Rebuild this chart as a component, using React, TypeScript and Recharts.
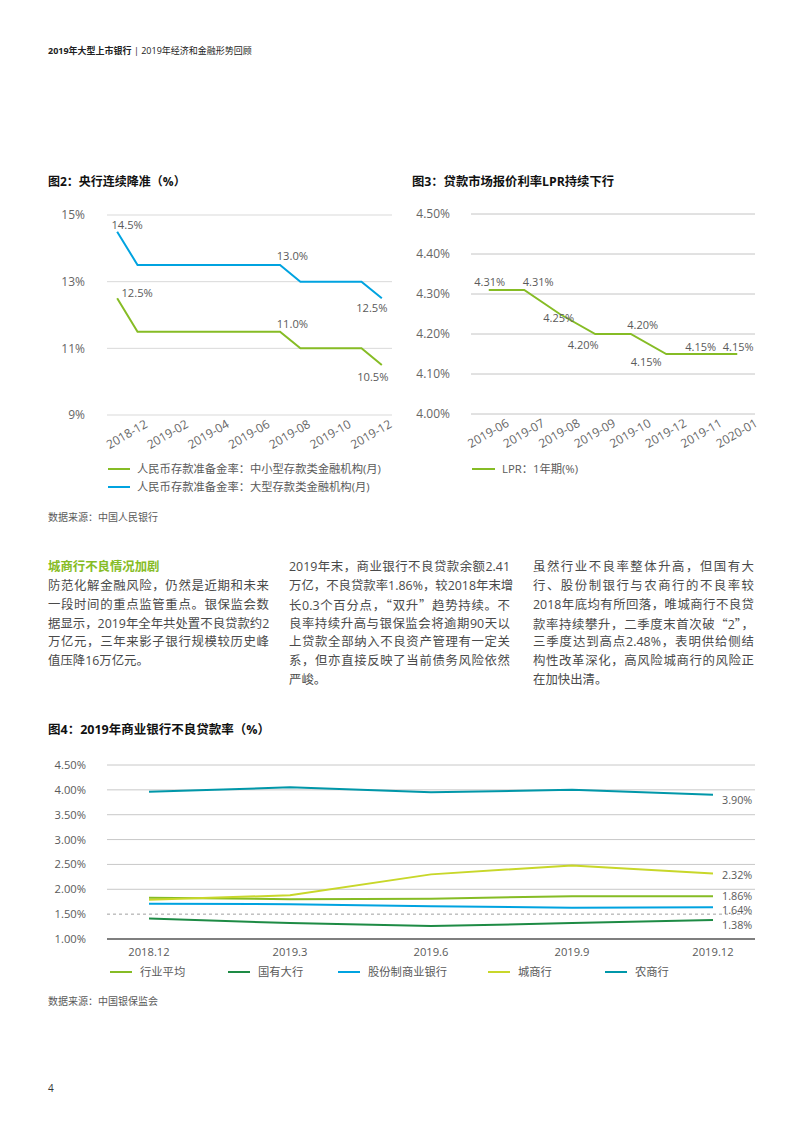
import React from 'react';
import { LineChart, Line, XAxis, YAxis, CartesianGrid, ReferenceLine } from 'recharts';

const FONT = "'Open Sans', 'Noto Sans CJK SC', sans-serif";
const CJK = "'Noto Sans CJK SC', sans-serif";
const GREY_TEXT = '#5a5a5a';
const AXIS = '#7f7f7f';

// ---------- Figure 2 data ----------
const rrrMonths = ['2018-12', '2019-01', '2019-02', '2019-03', '2019-04', '2019-05', '2019-06', '2019-07', '2019-08', '2019-09', '2019-10', '2019-11', '2019-12', '2020-01'];
const rrrLarge = [14.5, 13.5, 13.5, 13.5, 13.5, 13.5, 13.5, 13.5, 13.5, 13.0, 13.0, 13.0, 13.0, 12.5];
const rrrSmall = [12.5, 11.5, 11.5, 11.5, 11.5, 11.5, 11.5, 11.5, 11.5, 11.0, 11.0, 11.0, 11.0, 10.5];
const rrrYTicks = [9, 11, 13, 15];
const rrrLegend = ['人民币存款准备金率：中小型存款类金融机构(月)', '人民币存款准备金率：大型存款类金融机构(月)'];

// ---------- Figure 3 data ----------
const lprMonths = ['2019-06', '2019-07', '2019-08', '2019-09', '2019-10', '2019-12', '2019-11', '2020-01'];
const lprValues = [4.31, 4.31, 4.25, 4.2, 4.2, 4.15, 4.15, 4.15];
const lprYTicks = [4.0, 4.1, 4.2, 4.3, 4.4, 4.5];
const lprLegend = 'LPR：1年期(%)';

// ---------- Figure 4 data ----------
const npCats = ['2018.12', '2019.3', '2019.6', '2019.9', '2019.12'];
const npIndustry = [1.83, 1.80, 1.81, 1.86, 1.86];
const npStateOwned = [1.41, 1.32, 1.26, 1.32, 1.38];
const npJointStock = [1.71, 1.70, 1.66, 1.63, 1.64];
const npCity = [1.79, 1.88, 2.30, 2.48, 2.32];
const npRural = [3.96, 4.05, 3.95, 4.00, 3.90];
const npYTicks = [1.0, 1.5, 2.0, 2.5, 3.0, 3.5, 4.0, 4.5];
const npNames = ['行业平均', '国有大行', '股份制商业银行', '城商行', '农商行'];

// ---------- Built tables ----------
const rrrData = rrrMonths.map((m, i) => ({ x: i + 0.5, month: m, large: rrrLarge[i], small: rrrSmall[i] }));
const rrrEdgeTicks = rrrMonths.map((_, i) => i).filter((i) => i % 2 === 0).concat([rrrMonths.length]);
const rrrLabelTicks = rrrMonths.map((_, i) => i).filter((i) => i % 2 === 0).map((i) => i + 1);

const lprData = lprMonths.map((m, i) => ({ x: i + 0.5, month: m, lpr: lprValues[i] }));
const lprEdgeTicks = lprMonths.map((_, i) => i).concat([lprMonths.length]);
const lprLabelTicks = lprMonths.map((_, i) => i + 0.5);

const npData = npCats.map((c, i) => ({
  cat: c,
  industry: npIndustry[i],
  state: npStateOwned[i],
  joint: npJointStock[i],
  city: npCity[i],
  rural: npRural[i],
}));

// ---------- styles ----------
const C_GREEN = '#86BC25';
const C_BLUE = '#00A3E0';
const C_DKGREEN = '#1E8B45';
const C_LIME = '#C8D72A';
const C_TEAL = '#0097A9';

const npSeries = [
  { key: 'industry', color: C_GREEN },
  { key: 'state', color: C_DKGREEN },
  { key: 'joint', color: C_BLUE },
  { key: 'city', color: C_LIME },
  { key: 'rural', color: C_TEAL },
];

const EmptyTick = () => <g />;

const RotTick = (props: any) => {
  const { x, y, payload, fmt } = props;
  return (
    <g transform={`translate(${x + 19},${y + 8}) rotate(-30)`}>
      <text textAnchor="end" dy="0.35em" fill="#666" fontSize={12} fontFamily={FONT}>
        {fmt(payload.value)}
      </text>
    </g>
  );
};

const makeLabel = (
  offsets: Record<number, [number, number]>,
  fmt: (v: number) => string,
  size: number,
  anchor: string = 'middle'
) => (props: any) => {
  const { x, y, index, value } = props;
  const o = offsets[index];
  if (!o) return <g key={`e${index}`} />;
  return (
    <text
      key={`t${index}`}
      x={x + o[0]}
      y={y + o[1]}
      textAnchor={anchor as any}
      dominantBaseline="central"
      fontSize={size}
      fill={GREY_TEXT}
      fontFamily={FONT}
    >
      {fmt(value)}
    </text>
  );
};

// wrap CJK quotation marks so they render full-width
const withQuotes = (t: string) =>
  t.split(/([“”])/).map((part, i) =>
    part === '“' || part === '”' ? (
      <span key={i} style={{ fontFamily: CJK }}>{part}</span>
    ) : (
      <React.Fragment key={i}>{part}</React.Fragment>
    )
  );

const Txt = (p: { x: number; y: number; size: number; color?: string; weight?: number; width?: number; justify?: boolean; children: React.ReactNode }) => (
  <div
    style={{
      position: 'absolute',
      left: p.x,
      top: p.y - p.size * 0.75,
      height: p.size * 1.5,
      lineHeight: `${p.size * 1.5}px`,
      fontSize: p.size,
      color: p.color || '#4a4a4a',
      fontWeight: p.weight || 400,
      whiteSpace: 'nowrap',
      width: p.width,
      textAlign: p.justify ? 'justify' : 'left',
      textAlignLast: p.justify ? 'justify' : 'auto',
      fontFamily: FONT,
    } as React.CSSProperties}
  >
    {p.children}
  </div>
);

const LegendLine = (p: { x: number; y: number; color: string; w?: number }) => (
  <div style={{ position: 'absolute', left: p.x, top: p.y - 1, width: p.w || 22, height: 2, background: p.color }} />
);

const col1 = [
  '防范化解金融风险，仍然是近期和未来',
  '一段时间的重点监管重点。银保监会数',
  '据显示，2019年全年共处置不良贷款约2',
  '万亿元，三年来影子银行规模较历史峰',
  '值压降16万亿元。',
];
const col2 = [
  '2019年末，商业银行不良贷款余额2.41',
  '万亿，不良贷款率1.86%，较2018年末增',
  '长0.3个百分点，“双升”趋势持续。不',
  '良率持续升高与银保监会将逾期90天以',
  '上贷款全部纳入不良资产管理有一定关',
  '系，但亦直接反映了当前债务风险依然',
  '严峻。',
];
const col3 = [
  '虽然行业不良率整体升高，但国有大',
  '行、股份制银行与农商行的不良率较',
  '2018年底均有所回落，唯城商行不良贷',
  '款率持续攀升，二季度末首次破“2”，',
  '三季度达到高点2.48%，表明供给侧结',
  '构性改革深化，高风险城商行的风险正',
  '在加快出清。',
];

const LH = 18.8;
const TOP = 567.5;
const BODY = 12.4;
const COLW = 221;

export default function App() {
  const pct1 = (v: number) => `${Number(v).toFixed(1)}%`;
  const pct2 = (v: number) => `${Number(v).toFixed(2)}%`;
  const legX = [110, 228, 338, 488, 605];
  const npDy: Record<string, number> = { industry: -1, state: 4.5, joint: 2, city: 1.5, rural: 4.5 };

  return (
    <div style={{ position: 'absolute', left: 0, top: 0, width: 802, height: 1133, background: '#fff', fontFamily: FONT, overflow: 'hidden' }}>
      <style>{'.recharts-surface{overflow:visible}'}</style>
      {/* header */}
      <div style={{ position: 'absolute', left: 48, top: 44, fontSize: 9, lineHeight: '13px', color: '#222', whiteSpace: 'nowrap', fontFamily: FONT }}>
        <span style={{ fontWeight: 700 }}>2019年大型上市银行</span>
        <span> | 2019年经济和金融形势回顾</span>
      </div>

      {/* Figure 2 */}
      <Txt x={48} y={182} size={12} color="#111" weight={700}>图2：央行连续降准（%）</Txt>
      <div style={{ position: 'absolute', left: 40, top: 200 }}>
        <LineChart width={362} height={260} data={rrrData} margin={{ top: 15, right: 10, bottom: 5, left: 0 }}>
          <CartesianGrid vertical={false} stroke="#d9d9d9" xAxisId="edges" />
          <XAxis
            xAxisId="edges"
            dataKey="x"
            type="number"
            domain={[0, rrrMonths.length]}
            ticks={rrrEdgeTicks}
            interval={0}
            height={0}
            tick={<EmptyTick />}
            tickSize={5}
            axisLine={{ stroke: AXIS, strokeWidth: 1.5 }}
            tickLine={{ stroke: AXIS, strokeWidth: 1.5 }}
          />
          <XAxis
            xAxisId="main"
            dataKey="x"
            type="number"
            domain={[0, rrrMonths.length]}
            ticks={rrrLabelTicks}
            interval={0}
            height={40}
            axisLine={false}
            tickLine={false}
            tickSize={0}
            tickMargin={0}
            tick={<RotTick fmt={(v: number) => rrrMonths[v - 1]} />}
          />
          <YAxis
            domain={[9, 15]}
            ticks={rrrYTicks}
            interval={0}
            width={67}
            axisLine={false}
            tickLine={false}
            tickSize={0}
            tickMargin={22}
            tickFormatter={(v: number) => `${v}%`}
            tick={{ fill: '#666', fontSize: 12, fontFamily: FONT }}
          />
          <Line
            xAxisId="main"
            dataKey="large"
            stroke={C_BLUE}
            strokeWidth={2}
            dot={false}
            isAnimationActive={false}
            label={makeLabel({ 0: [10, -7], 9: [-8, -26], 13: [-10, 9] }, pct1, 11.2)}
          />
          <Line
            xAxisId="main"
            dataKey="small"
            stroke={C_GREEN}
            strokeWidth={2}
            dot={false}
            isAnimationActive={false}
            label={makeLabel({ 0: [20, -6], 9: [-8, -25], 13: [-9, 11] }, pct1, 11.2)}
          />
        </LineChart>
      </div>
      <LegendLine x={108} y={469} color={C_GREEN} />
      <Txt x={137} y={469} size={11.3} color={GREY_TEXT}>{rrrLegend[0]}</Txt>
      <LegendLine x={108} y={487} color={C_BLUE} />
      <Txt x={137} y={487} size={11.3} color={GREY_TEXT}>{rrrLegend[1]}</Txt>
      <Txt x={48} y={517.5} size={10} color={GREY_TEXT}>数据来源：中国人民银行</Txt>

      {/* Figure 3 */}
      <Txt x={412} y={182} size={12.3} color="#111" weight={700}>图3：贷款市场报价利率LPR持续下行</Txt>
      <div style={{ position: 'absolute', left: 400, top: 200 }}>
        <LineChart width={365} height={260} data={lprData} margin={{ top: 14, right: 10, bottom: 6, left: 0 }}>
          <CartesianGrid vertical={false} stroke="#c4c4c4" xAxisId="edges" />
          <XAxis
            xAxisId="edges"
            dataKey="x"
            type="number"
            domain={[0, lprMonths.length]}
            ticks={lprEdgeTicks}
            interval={0}
            height={0}
            tick={<EmptyTick />}
            tickSize={5}
            axisLine={{ stroke: AXIS, strokeWidth: 1.5 }}
            tickLine={{ stroke: AXIS, strokeWidth: 1.5 }}
          />
          <XAxis
            xAxisId="main"
            dataKey="x"
            type="number"
            domain={[0, lprMonths.length]}
            ticks={lprLabelTicks}
            interval={0}
            height={40}
            axisLine={false}
            tickLine={false}
            tickSize={0}
            tickMargin={0}
            tick={<RotTick fmt={(v: number) => lprMonths[Math.floor(v)]} />}
          />
          <YAxis
            domain={[4.0, 4.5]}
            ticks={lprYTicks}
            interval={0}
            width={71}
            axisLine={false}
            tickLine={false}
            tickSize={0}
            tickMargin={21}
            tickFormatter={(v: number) => `${v.toFixed(2)}%`}
            tick={{ fill: '#666', fontSize: 12, fontFamily: FONT }}
          />
          <Line
            xAxisId="main"
            dataKey="lpr"
            stroke={C_GREEN}
            strokeWidth={2}
            dot={false}
            isAnimationActive={false}
            label={makeLabel(
              { 0: [1, -9], 1: [14, -9], 2: [-1, 3], 3: [-12, 10], 4: [12, -10], 5: [-20, 7], 6: [-1, -8], 7: [1, -8] },
              pct2,
              11
            )}
          />
        </LineChart>
      </div>
      <LegendLine x={472} y={469} color={C_GREEN} w={23} />
      <Txt x={502} y={469} size={11.3} color={GREY_TEXT}>{lprLegend}</Txt>

      {/* Text columns */}
      <Txt x={48} y={TOP} size={BODY} color={C_GREEN} weight={700}>城商行不良情况加剧</Txt>
      {col1.map((t, i) => (
        <Txt key={`c1${i}`} x={48} y={TOP + LH * (i + 1)} size={BODY} width={COLW} justify={i < col1.length - 1}>
          {withQuotes(t)}
        </Txt>
      ))}
      {col2.map((t, i) => (
        <Txt key={`c2${i}`} x={289} y={TOP + LH * i} size={BODY} width={COLW} justify={i < col2.length - 1}>
          {withQuotes(t)}
        </Txt>
      ))}
      {col3.map((t, i) => (
        <Txt key={`c3${i}`} x={533} y={TOP + LH * i} size={BODY} width={COLW} justify={i < col3.length - 1}>
          {withQuotes(t)}
        </Txt>
      ))}

      {/* Figure 4 */}
      <Txt x={48} y={730} size={12.5} color="#111" weight={700}>图4：2019年商业银行不良贷款率（%）</Txt>
      <div style={{ position: 'absolute', left: 40, top: 750 }}>
        <LineChart width={725} height={215} data={npData} margin={{ top: 15, right: 10, bottom: 1, left: 0 }}>
          <CartesianGrid vertical={false} stroke="#c8c8c8" horizontalValues={[2.0, 2.5, 3.0, 3.5, 4.0, 4.5]} />
          <ReferenceLine y={1.5} stroke="#a0a0a0" strokeDasharray="3 3" strokeWidth={1} />
          <XAxis
            dataKey="cat"
            padding={{ left: 42, right: 42 }}
            interval={0}
            height={25}
            axisLine={{ stroke: AXIS, strokeWidth: 1.8 }}
            tickLine={false}
            tickSize={0}
            tickMargin={9}
            tick={{ fill: GREY_TEXT, fontSize: 11.2, fontFamily: FONT }}
          />
          <YAxis
            domain={[1.0, 4.5]}
            ticks={npYTicks}
            interval={0}
            width={67}
            axisLine={false}
            tickLine={false}
            tickSize={0}
            tickMargin={21}
            tickFormatter={(v: number) => `${v.toFixed(2)}%`}
            tick={{ fill: GREY_TEXT, fontSize: 11.2, fontFamily: FONT }}
          />
          {npSeries.map((s, idx) => (
            <Line
              key={s.key}
              dataKey={s.key}
              name={npNames[idx]}
              stroke={s.color}
              strokeWidth={2}
              dot={false}
              isAnimationActive={false}
              label={makeLabel({ [npCats.length - 1]: [9, npDy[s.key]] }, pct2, 10.8, 'start')}
            />
          ))}
        </LineChart>
      </div>
      {npSeries.map((s, i) => (
        <React.Fragment key={`lg${i}`}>
          <LegendLine x={legX[i]} y={972} color={s.color} />
          <Txt x={legX[i] + 30} y={972} size={11.3} color={GREY_TEXT}>{npNames[i]}</Txt>
        </React.Fragment>
      ))}
      <Txt x={48} y={1001.5} size={10} color={GREY_TEXT}>数据来源：中国银保监会</Txt>

      {/* page number */}
      <Txt x={48} y={1088} size={10} color="#333">4</Txt>
    </div>
  );
}
